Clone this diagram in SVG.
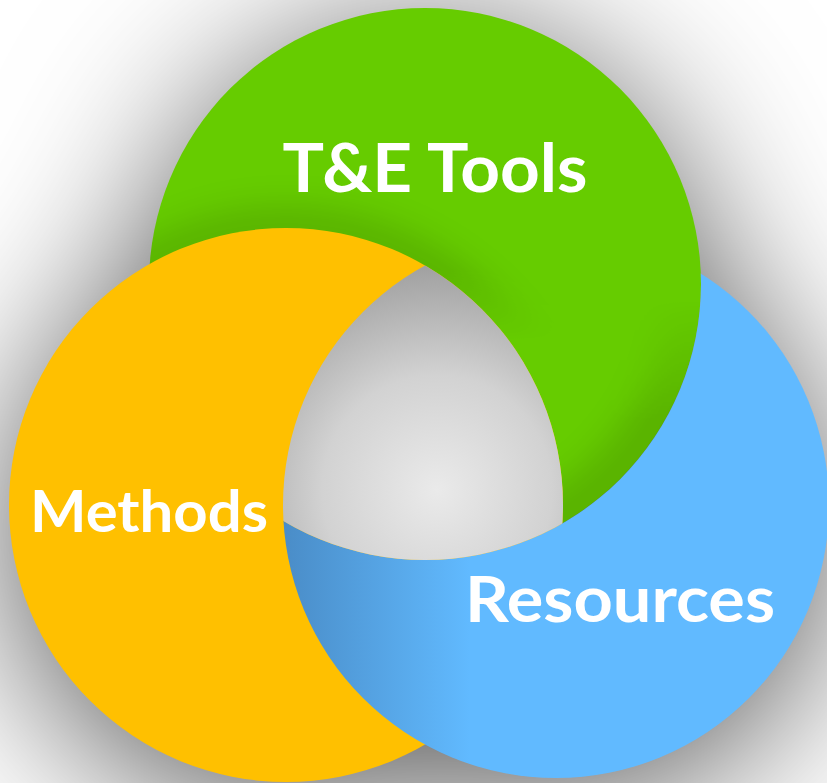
<svg xmlns="http://www.w3.org/2000/svg" width="827" height="783" viewBox="0 0 827 783">
  <defs>
    <style>
      .label { font-family: Lato, "Open Sans", "Liberation Sans", sans-serif; font-weight: 700; fill: #ffffff; text-anchor: middle; }
    </style>

    <!-- soft drop shadow under the three rings -->
    <filter id="softShadow" filterUnits="userSpaceOnUse" x="-300" y="-300" width="1427" height="1383">
      <feGaussianBlur in="SourceAlpha" stdDeviation="85"/>
      <feOffset dy="25"/>
      <feColorMatrix type="matrix" values="0 0 0 0 0  0 0 0 0 0  0 0 0 0 0  0 0 0 0.66 0"/>
    </filter>

    <filter id="edgeBlur" filterUnits="userSpaceOnUse" x="0" y="0" width="827" height="783">
      <feGaussianBlur stdDeviation="16"/>
    </filter>

    <!-- circles: green (top), yellow (left), blue (right) -->
    <clipPath id="clipGreen"><circle cx="425" cy="284" r="276"/></clipPath>
    <clipPath id="clipYellow"><circle cx="286" cy="505" r="277"/></clipPath>
    <clipPath id="clipBlue"><circle cx="556" cy="505" r="273"/></clipPath>

    <!-- blue ring is cut where it passes under the green one -->
    <mask id="maskNotGreen" maskUnits="userSpaceOnUse" x="0" y="0" width="827" height="783">
      <rect x="0" y="0" width="827" height="783" fill="#fff"/>
      <circle cx="425" cy="284" r="276" fill="#000"/>
    </mask>

    <!-- keeps the shading on the upper part of the green ring -->
    <linearGradient id="fadeDown" gradientUnits="userSpaceOnUse" x1="0" y1="270" x2="0" y2="340">
      <stop offset="0" stop-color="#fff"/>
      <stop offset="1" stop-color="#000"/>
    </linearGradient>
    <mask id="maskUpper" maskUnits="userSpaceOnUse" x="0" y="0" width="827" height="783">
      <rect x="0" y="0" width="827" height="783" fill="url(#fadeDown)"/>
    </mask>
    <linearGradient id="fadeUp" gradientUnits="userSpaceOnUse" x1="0" y1="300" x2="0" y2="420">
      <stop offset="0" stop-color="#000"/>
      <stop offset="1" stop-color="#fff"/>
    </linearGradient>
    <mask id="maskLower" maskUnits="userSpaceOnUse" x="0" y="0" width="827" height="783">
      <rect x="0" y="0" width="827" height="783" fill="url(#fadeUp)"/>
    </mask>

    <linearGradient id="blueFill" gradientUnits="userSpaceOnUse" x1="285" y1="0" x2="470" y2="0">
      <stop offset="0" stop-color="#4a8dc8"/>
      <stop offset="1" stop-color="#61baff"/>
    </linearGradient>

    <radialGradient id="holeFill" gradientUnits="userSpaceOnUse" cx="437" cy="490" r="230">
      <stop offset="0" stop-color="#eaeaea"/>
      <stop offset="0.5" stop-color="#d2d2d2"/>
      <stop offset="1" stop-color="#9e9e9e"/>
    </radialGradient>
  </defs>

  <rect x="0" y="0" width="827" height="783" fill="#ffffff"/>

  <!-- shadow -->
  <g id="shadow" filter="url(#softShadow)">
    <circle cx="425" cy="284" r="276" fill="#000"/>
    <circle cx="286" cy="505" r="277" fill="#000"/>
    <circle cx="556" cy="505" r="273" fill="#000"/>
  </g>

  <!-- T&E Tools ring -->
  <g id="node-tools">
    <circle cx="425" cy="284" r="276" fill="#66cc00"/>
    <g clip-path="url(#clipGreen)">
      <!-- darker band where the ring dips under Methods -->
      <g mask="url(#maskUpper)">
        <circle cx="286" cy="505" r="277" fill="none" stroke="#000" stroke-opacity="0.12" stroke-width="44" filter="url(#edgeBlur)"/>
      </g>
      <!-- darker band along the lower right edge, over Resources -->
      <g mask="url(#maskLower)">
        <circle cx="425" cy="284" r="276" fill="none" stroke="#000" stroke-opacity="0.12" stroke-width="70" filter="url(#edgeBlur)"/>
      </g>
    </g>
  </g>

  <!-- Methods ring -->
  <g id="node-methods">
    <circle cx="286" cy="505" r="277" fill="#ffc000"/>
  </g>

  <!-- Resources ring -->
  <g id="node-resources">
    <circle cx="556" cy="505" r="273" fill="url(#blueFill)" mask="url(#maskNotGreen)"/>
  </g>

  <!-- open centre where all three rings meet -->
  <g id="centre" clip-path="url(#clipYellow)">
    <g clip-path="url(#clipBlue)">
      <circle cx="425" cy="284" r="276" fill="url(#holeFill)"/>
    </g>
  </g>

  <!-- labels -->
  <g id="labels">
    <text class="label" x="435" y="192" font-size="67" textLength="305" lengthAdjust="spacingAndGlyphs">T&amp;E Tools</text>
    <text class="label" x="149" y="532" font-size="57" textLength="238" lengthAdjust="spacingAndGlyphs">Methods</text>
    <text class="label" x="620" y="622" font-size="64" textLength="310" lengthAdjust="spacingAndGlyphs">Resources</text>
  </g>

  <g id="connectors"/>
</svg>
